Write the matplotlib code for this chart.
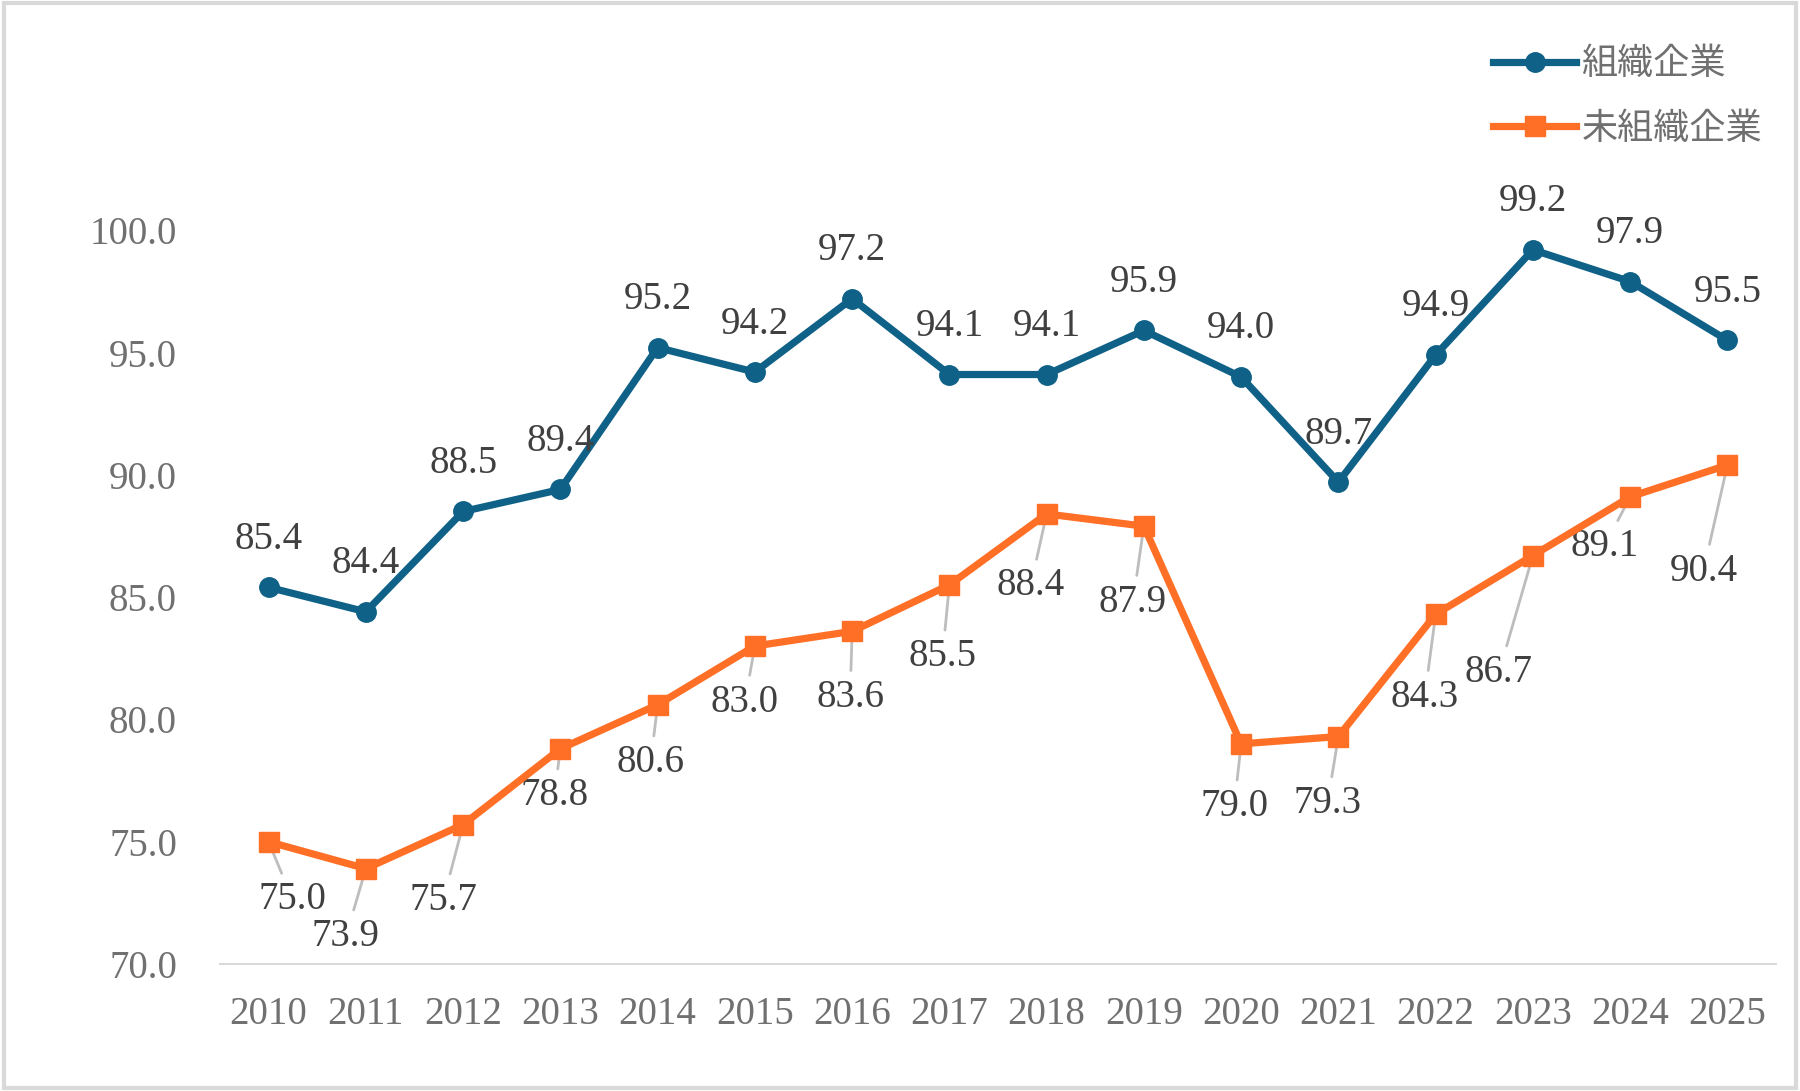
import matplotlib
matplotlib.use("Agg")
import matplotlib.pyplot as plt
from matplotlib.patches import Rectangle

years = ["2010", "2011", "2012", "2013", "2014", "2015", "2016", "2017",
         "2018", "2019", "2020", "2021", "2022", "2023", "2024", "2025"]
organized = [85.4, 84.4, 88.5, 89.4, 95.2, 94.2, 97.2, 94.1,
             94.1, 95.9, 94.0, 89.7, 94.9, 99.2, 97.9, 95.5]
unorganized = [75.0, 73.9, 75.7, 78.8, 80.6, 83.0, 83.6, 85.5,
               88.4, 87.9, 79.0, 79.3, 84.3, 86.7, 89.1, 90.4]
series_names = ["組織企業", "未組織企業"]
yticks = [70.0, 75.0, 80.0, 85.0, 90.0, 95.0, 100.0]

# label offsets (pixels)
org_off = [(0, 48)] * 16
unorg_off = [(24, -58), (-20, -68), (-20, -76), (-6, -47), (-7, -58), (-10, -56),
             (-2, -66), (-7, -72), (-16, -72), (-11, -76), (-7, -63), (-11, -67),
             (-11, -83), (-34, -117), (-26, -50), (-24, -106)]

BLUE = "#0F6187"
ORANGE = "#FF6F26"
SERIF = ["Liberation Serif", "Noto Sans CJK JP", "DejaVu Sans"]

plt.rcParams["font.family"] = SERIF

fig = plt.figure(figsize=(18, 10.91), dpi=100)
ax = fig.add_axes([0.1222, 0.1164, 0.8645, 0.6726])

x = list(range(len(years)))
ax.plot(x, organized, color=BLUE, lw=5.2, marker="o", ms=14, label=series_names[0],
        clip_on=False, zorder=3)
ax.plot(x, unorganized, color=ORANGE, lw=5.2, marker="s", ms=14, label=series_names[1],
        clip_on=False, zorder=3)

for i, v in enumerate(organized):
    ax.annotate(f"{v:.1f}", (i, v), xytext=org_off[i], textcoords="offset pixels",
                ha="center", va="center", fontsize=28, color="#404040", zorder=4)

for i, v in enumerate(unorganized):
    ax.annotate(f"{v:.1f}", (i, v), xytext=unorg_off[i], textcoords="offset pixels",
                ha="center", va="center", fontsize=28, color="#404040", zorder=2,
                arrowprops=dict(arrowstyle="-", color="#BDBDBD", lw=2,
                                shrinkA=4, shrinkB=0))

ax.set_xlim(-0.5, len(years) - 0.5)
ax.set_ylim(70, 100)
ax.set_xticks(x)
ax.set_xticklabels(years)
ax.set_yticks(yticks)
ax.set_yticklabels([f"{t:.1f}" for t in yticks])
ax.tick_params(axis="both", length=0, labelsize=28, labelcolor="#707070")
ax.tick_params(axis="x", pad=23)
ax.tick_params(axis="y", pad=31)
for s in ["top", "right", "left"]:
    ax.spines[s].set_visible(False)
ax.spines["bottom"].set_color("#D9D9D9")
ax.spines["bottom"].set_linewidth(1.5)

leg = fig.legend(loc="upper right", bbox_to_anchor=(0.997, 0.985), frameon=False,
                 fontsize=26, handlelength=2.3, handletextpad=0.15, labelspacing=0.85)
for t in leg.get_texts():
    t.set_color("#707070")

fig.patches.append(Rectangle((0.002, 0.003), 0.996, 0.994, transform=fig.transFigure,
                             fill=False, edgecolor="#D9D9D9", lw=3))

fig.savefig("out.png", dpi=100)
